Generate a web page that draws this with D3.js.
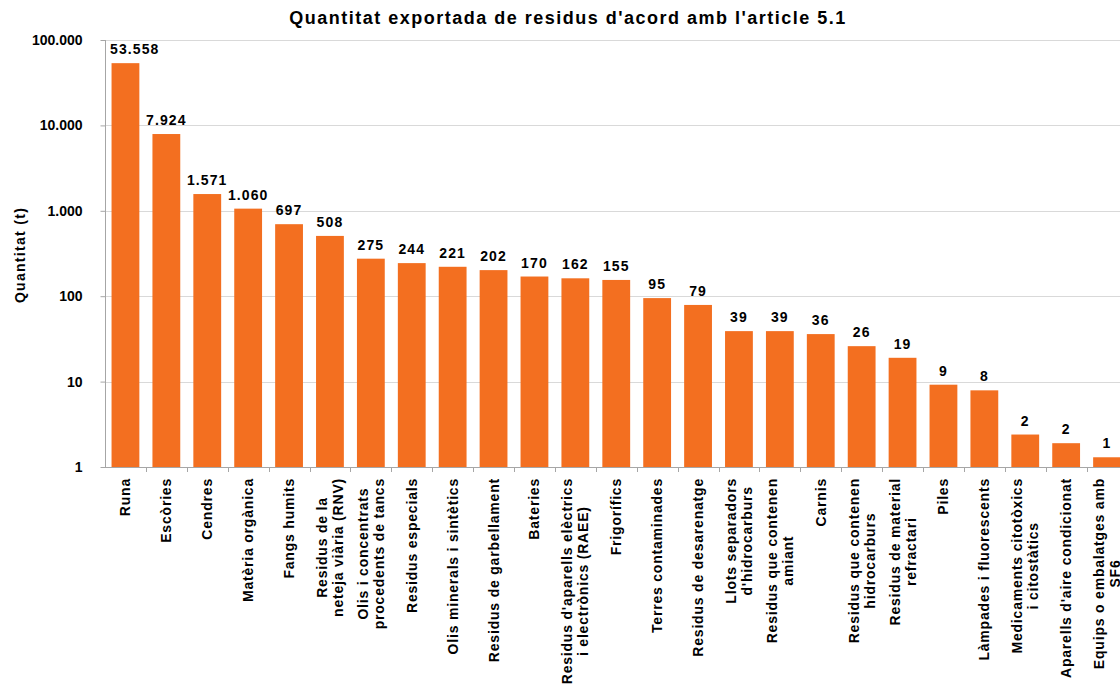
<!DOCTYPE html>
<html>
<head>
  <meta charset="utf-8">
  <script src="https://d3js.org/d3.v7.min.js"></script>
  <style>
    body { margin: 0; background: #fff; }
    text { font-family: "Liberation Sans", Arial, sans-serif; font-weight: bold; fill: #000; }
  </style>
</head>
<body>
<script>
  // chart data
  var categories = [
    "Runa", "Escòries", "Cendres", "Matèria orgànica", "Fangs humits",
    "Residus de la\nneteja viària (RNV)", "Olis i concentrats\nprocedents de tancs",
    "Residus especials", "Olis minerals i sintètics", "Residus de garbellament",
    "Bateries", "Residus d'aparells elèctrics\ni electrònics (RAEE)", "Frigorífics",
    "Terres contaminades", "Residus de desarenatge", "Llots separadors\nd'hidrocarburs",
    "Residus que contenen\namiant", "Carnis", "Residus que contenen\nhidrocarburs",
    "Residus de material\nrefractari", "Piles", "Làmpades i fluorescents",
    "Medicaments citotòxics\ni citostàtics", "Aparells d'aire condicionat",
    "Equips o embalatges amb\nSF6"
  ];
  var quantities = [53558, 7924, 1571, 1060, 697, 508, 275, 244, 221, 202, 170, 162, 155,
                    95, 79, 39, 39, 36, 26, 19, 9.2, 7.9, 2.4, 1.9, 1.3];
  var yTicks = [1, 10, 100, 1000, 10000, 100000];

  var title = "Quantitat exportada de residus d'acord amb l'article 5.1";
  var yTitle = "Quantitat (t)";

  function draw() {
    "use strict";
    var width = 1120, height = 692;
    var plotLeft = 105, plotTop = 40, plotBottom = 467;
    var step = 40.9;

    // Catalan number format: 53.558
    var ca = d3.formatLocale({ decimal: ",", thousands: ".", grouping: [3], currency: ["", " €"] });
    var fmt = ca.format(",.0f");

    var svg = d3.select("body").append("svg")
        .attr("width", width)
        .attr("height", height);

    var x = d3.scaleBand()
        .domain(d3.range(categories.length))
        .range([plotLeft, plotLeft + step * categories.length])
        .paddingInner(0.32)
        .paddingOuter(0.16);

    var y = d3.scaleLog()
        .domain([1, 100000])
        .range([plotBottom, plotTop]);

    // gridlines
    svg.append("g")
        .selectAll("line")
        .data(yTicks.slice(1))
        .enter().append("line")
        .attr("x1", plotLeft).attr("x2", width)
        .attr("y1", function (d) { return Math.round(y(d)) + 0.5; })
        .attr("y2", function (d) { return Math.round(y(d)) + 0.5; })
        .style("stroke", "#d9d9d9")
        .style("stroke-width", 1);

    // bars
    svg.append("g")
        .selectAll("rect")
        .data(quantities)
        .enter().append("rect")
        .attr("x", function (d, i) { return x(i); })
        .attr("width", x.bandwidth())
        .attr("y", function (d) { return y(d); })
        .attr("height", function (d) { return plotBottom - y(d); })
        .style("fill", "#f36f20");

    // value labels, nudged right if they would run into the y axis
    var labels = svg.append("g")
        .selectAll("text")
        .data(quantities)
        .enter().append("text")
        .attr("x", function (d, i) { return x(i) + x.bandwidth() / 2; })
        .attr("y", function (d) { return y(d) - 9; })
        .attr("text-anchor", "middle")
        .style("font-size", "14px")
        .style("letter-spacing", "1.1px")
        .text(function (d) { return fmt(d); });
    labels.each(function () {
      var b = this.getBBox();
      if (b.x < plotLeft + 5) {
        d3.select(this).attr("x", +d3.select(this).attr("x") + (plotLeft + 5 - b.x));
      }
    });

    // y axis
    var yAxis = d3.axisLeft(y)
        .tickValues(yTicks)
        .tickSize(5)
        .tickPadding(18)
        .tickFormat(fmt);
    var gy = svg.append("g")
        .attr("transform", "translate(" + (plotLeft + 0.5) + ",0)")
        .call(yAxis);
    gy.select(".domain").remove();
    gy.selectAll("line").style("stroke", "#a6a6a6");
    gy.selectAll("text").style("font-size", "14px").style("font-family", null);
    svg.append("line")
        .attr("x1", plotLeft + 0.5).attr("x2", plotLeft + 0.5)
        .attr("y1", plotTop).attr("y2", plotBottom)
        .style("stroke", "#a6a6a6");

    // x axis line and separator ticks
    svg.append("line")
        .attr("x1", plotLeft).attr("x2", width)
        .attr("y1", plotBottom + 0.5).attr("y2", plotBottom + 0.5)
        .style("stroke", "#a6a6a6");
    svg.append("g")
        .selectAll("line")
        .data(d3.range(1, categories.length + 1))
        .enter().append("line")
        .attr("x1", function (i) { return Math.round(plotLeft + step * i) + 0.5; })
        .attr("x2", function (i) { return Math.round(plotLeft + step * i) + 0.5; })
        .attr("y1", plotBottom)
        .attr("y2", plotBottom + 5)
        .style("stroke", "#a6a6a6");

    // category labels, rotated, lines centred on each other
    var labelTop = 478;
    var lineGap = 16;
    categories.forEach(function (c, i) {
      var lines = c.split("\n");
      var cx = x(i) + x.bandwidth() / 2;
      var g = svg.append("g");
      var texts = lines.map(function (l) {
        return g.append("text")
            .attr("text-anchor", "middle")
            .style("font-size", "14px")
            .style("letter-spacing", "0.8px")
            .text(l);
      });
      var maxLen = d3.max(texts, function (t) { return t.node().getComputedTextLength(); });
      var mid = labelTop + maxLen / 2;
      texts.forEach(function (t, k) {
        var off = (k - (lines.length - 1) / 2) * lineGap;
        t.attr("transform", "translate(" + (cx + off + 5) + "," + mid + ") rotate(-90)");
      });
    });

    // titles
    svg.append("text")
        .attr("x", 568)
        .attr("y", 24)
        .attr("text-anchor", "middle")
        .style("font-size", "18px")
        .style("letter-spacing", "1.5px")
        .text(title);

    svg.append("text")
        .attr("transform", "translate(25,255) rotate(-90)")
        .attr("text-anchor", "middle")
        .style("font-size", "14px")
        .style("letter-spacing", "1.3px")
        .text(yTitle);
  }

  draw();
</script>
</body>
</html>
